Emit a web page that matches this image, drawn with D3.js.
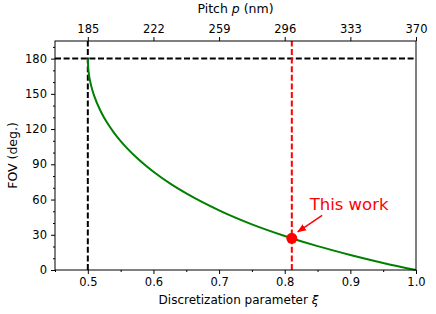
<!DOCTYPE html>
<html>
<head>
<meta charset="utf-8">
<script src="https://cdn.jsdelivr.net/npm/d3@7"></script>
<style>
  body { margin: 0; background: #fff; }
  text { font-family: "DejaVu Sans", sans-serif; }
</style>
</head>
<body>
<script>
// discretization parameter xi and field of view (deg.)
var xi  = [0.5, 0.5005, 0.501, 0.505, 0.51, 0.52, 0.53, 0.54, 0.55, 0.56, 0.575, 0.6, 0.625, 0.65, 0.7, 0.75, 0.8, 0.85, 0.9, 0.95, 1.0];
var fov = [180, 172.8, 169.8, 157.2, 147.8, 134.8, 124.9, 116.8, 109.8, 103.6, 95.3, 83.6, 73.7, 65.2, 50.8, 38.9, 29.0, 20.3, 12.8, 6.0, 0];
var xTicks = [0.5, 0.6, 0.7, 0.8, 0.9, 1.0];
var xMinor = [0.45, 0.55, 0.65, 0.75, 0.85, 0.95];
var yTicks = [0, 30, 60, 90, 120, 150, 180];
var yMinor = [10, 20, 40, 50, 70, 80, 100, 110, 130, 140, 160, 170, 190];
var pitchTicks = [185, 222, 259, 296, 333, 370];
var thisWork = {xi: 0.8108, fov: 27.0};

var w = 436, h = 314;
var margin = {top: 41, right: 20, bottom: 44, left: 55};

var svg = d3.select("body").append("svg")
  .attr("width", w).attr("height", h);

var xScale = d3.scaleLinear().domain([0.45, 1.0]).range([margin.left, w - margin.right]);
var yScale = d3.scaleLinear().domain([0, 195]).range([h - margin.bottom, margin.top]);
// pitch = 370 * xi
var pScale = d3.scaleLinear().domain([0.45 * 370, 370]).range([margin.left, w - margin.right]);

// reference dashed lines
svg.append("line")
  .attr("x1", xScale(0.45)).attr("x2", xScale(1.0))
  .attr("y1", yScale(180)).attr("y2", yScale(180))
  .attr("stroke", "black").attr("stroke-width", 2).attr("stroke-dasharray", "6,2.6");
svg.append("line")
  .attr("x1", xScale(0.5)).attr("x2", xScale(0.5))
  .attr("y1", yScale(0)).attr("y2", yScale(195))
  .attr("stroke", "black").attr("stroke-width", 2).attr("stroke-dasharray", "6,2.6");
svg.append("line")
  .attr("x1", xScale(thisWork.xi)).attr("x2", xScale(thisWork.xi))
  .attr("y1", yScale(0)).attr("y2", yScale(195))
  .attr("stroke", "red").attr("stroke-width", 2).attr("stroke-dasharray", "6,2.6");

// curve
var line = d3.line()
  .x(function(d, i) { return xScale(xi[i]); })
  .y(function(d) { return yScale(d); })
  .curve(d3.curveMonotoneX);
svg.append("path")
  .attr("d", line(fov))
  .attr("fill", "none").attr("stroke", "#008000").attr("stroke-width", 2);

// point
svg.append("circle")
  .attr("cx", xScale(thisWork.xi)).attr("cy", yScale(thisWork.fov))
  .attr("r", 5.5).attr("fill", "red");

// annotation arrow
svg.append("defs").append("marker")
  .attr("id", "head").attr("viewBox", "0 0 10 10")
  .attr("refX", 9).attr("refY", 5)
  .attr("markerWidth", 9).attr("markerHeight", 9)
  .attr("markerUnits", "userSpaceOnUse")
  .attr("orient", "auto")
  .append("path").attr("d", "M0,1 L10,5 L0,9 z").attr("fill", "red");
svg.append("line")
  .attr("x1", xScale(0.857)).attr("y1", yScale(46.5))
  .attr("x2", xScale(0.82)).attr("y2", yScale(32.5))
  .attr("stroke", "red").attr("stroke-width", 1.5)
  .attr("marker-end", "url(#head)");
svg.append("text")
  .attr("x", xScale(0.838)).attr("y", yScale(51))
  .attr("fill", "red").style("font-size", "16.5px")
  .text("This work");

// frame
svg.append("rect")
  .attr("x", margin.left).attr("y", margin.top)
  .attr("width", w - margin.left - margin.right)
  .attr("height", h - margin.top - margin.bottom)
  .attr("fill", "none").attr("stroke", "black").attr("stroke-width", 1);

// axes
svg.append("g")
  .attr("transform", "translate(0," + (h - margin.bottom) + ")")
  .call(d3.axisBottom(xScale).tickValues(xTicks).tickFormat(d3.format(".1f")).tickSizeOuter(0).tickSize(4).tickPadding(4));
svg.append("g")
  .attr("transform", "translate(0," + (h - margin.bottom) + ")")
  .call(d3.axisBottom(xScale).tickValues(xMinor).tickFormat("").tickSizeOuter(0).tickSize(2));

svg.append("g")
  .attr("transform", "translate(" + margin.left + ",0)")
  .call(d3.axisLeft(yScale).tickValues(yTicks).tickSizeOuter(0).tickSize(4).tickPadding(4));
svg.append("g")
  .attr("transform", "translate(" + margin.left + ",0)")
  .call(d3.axisLeft(yScale).tickValues(yMinor).tickFormat("").tickSizeOuter(0).tickSize(2));

svg.append("g")
  .attr("transform", "translate(0," + margin.top + ")")
  .call(d3.axisTop(pScale).tickValues(pitchTicks).tickSizeOuter(0).tickSize(4).tickPadding(4));

svg.selectAll(".domain").remove();
svg.selectAll(".tick line").attr("stroke", "black");
svg.selectAll(".tick text")
  .attr("fill", "black")
  .style("font-family", "DejaVu Sans")
  .style("font-size", "11.5px");

// axis labels
svg.append("text")
  .attr("x", (margin.left + w - margin.right) / 2 + 3).attr("y", 304)
  .attr("text-anchor", "middle").style("font-size", "12px")
  .html('Discretization parameter <tspan font-style="italic">ξ</tspan>');
svg.append("text")
  .attr("x", (margin.left + w - margin.right) / 2).attr("y", 13)
  .attr("text-anchor", "middle").style("font-size", "12.5px")
  .html('Pitch <tspan font-style="italic">p</tspan> (nm)');
svg.append("text")
  .attr("transform", "translate(17," + ((margin.top + h - margin.bottom) / 2) + ") rotate(-90)")
  .attr("text-anchor", "middle").style("font-size", "12.5px")
  .text("FOV (deg.)");
</script>
</body>
</html>
